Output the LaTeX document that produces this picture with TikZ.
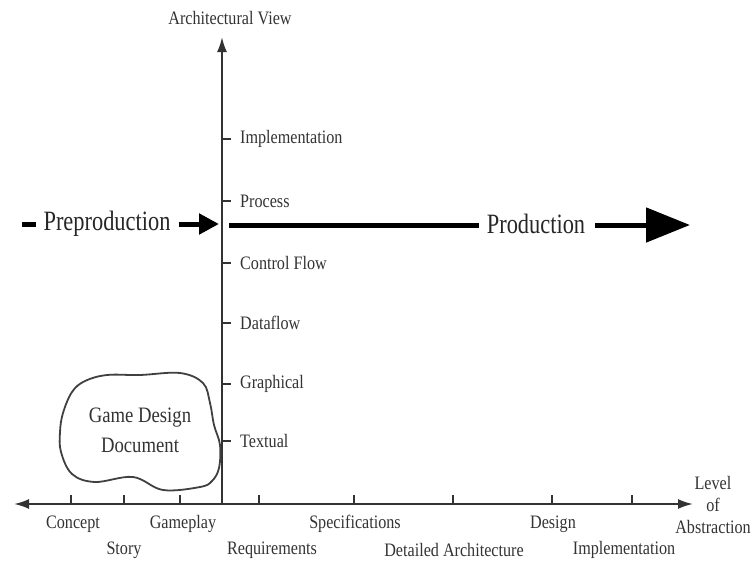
\documentclass[tikz,border=0pt]{standalone}
\usepackage{fontspec}
\setmainfont{Liberation Serif}
\newfontfamily\smallfnt[FakeStretch=0.85]{Liberation Serif}
\newfontfamily\bigfnt[FakeStretch=0.8]{Liberation Serif}
\usetikzlibrary{arrows.meta}
\begin{document}
\begin{tikzpicture}[x=1pt,y=-1pt,
  lbl/.style={inner sep=0pt,font=\smallfnt\fontsize{19}{22}\selectfont,text=black!80},
  big/.style={inner sep=0pt,font=\bigfnt\fontsize{28}{30}\selectfont,text=black!85},
  axis/.style={line width=2pt,draw=black!80},
  tick/.style={line width=1.5pt,draw=black!80},
  thick line/.style={line width=5pt,draw=black}]
\useasboundingbox (0,0) rectangle (753,565);
% axes
\coordinate (O) at (222,504);
\coordinate (L) at (14,504);
\coordinate (R) at (693,504);
\coordinate (T) at (222,37);
\draw[axis,-{Latex[length=15pt,width=10pt]}] (O) -- (L);
\draw[axis,-{Latex[length=15pt,width=10pt]}] (O) -- (R);
\draw[axis,-{Latex[length=15pt,width=10pt]}] (O) -- (T);
\node[lbl] (av) at (230,18) {Architectural View};
% horizontal ticks
\foreach \x in {71,124,180,259,354,453,552,632}
  \draw[tick] (\x,504) -- (\x,495);
\node[lbl] (concept) at (73,524) {Concept};
\node[lbl] (story) at (124,550) {Story};
\node[lbl] (gameplay) at (183,524) {Gameplay};
\node[lbl] (req) at (272,550) {Requirements};
\node[lbl] (spec) at (355,524) {Specifications};
\node[lbl] (detarch) at (454,550) {Detailed Architecture};
\node[lbl] (design) at (553,524) {Design};
\node[lbl] (impl) at (624,550) {Implementation};
\node[lbl,align=center] (lvl) at (713,505) {Level\\of\\Abstraction};
% vertical ticks
\foreach \y/\t in {139/Implementation,201/Process,263/Control Flow,323/Dataflow,384/Graphical,441/Textual}
  {\draw[tick] (222,\y) -- (231,\y);
   \node[lbl,anchor=west] at (240,\y) {\t};}
% preproduction / production
\node[big] (pre) at (107,224) {Preproduction};
\coordinate (dashstart) at (22,224);
\draw[thick line] (dashstart) -- ([xshift=-7pt]pre.west|-dashstart);
\coordinate (preend) at (219,224);
\draw[thick line,-{Triangle[length=20pt,width=20pt]}] ([xshift=8pt]pre.east|-preend) -- (preend);
\node[big] (prod) at (536,224) {Production};
\coordinate (prodstart) at (229,225);
\coordinate (prodend) at (690,225);
\draw[thick line] (prodstart) -- ([xshift=-8pt]prod.west|-prodstart);
\draw[thick line,-{Triangle[length=44pt,width=34pt]}] ([xshift=10pt]prod.east|-prodstart) -- (prodend);
% cloud
\draw[line width=1.8pt,draw=black!75] plot[smooth cycle,tension=0.6] coordinates {
 (63,413) (72,392) (85,381) (107,375) (140,375) (180,373) (203,383) (210,403)
 (214,425) (220,445) (219,468) (212,481) (200,487) (163,490) (133,477) (95,482)
 (72,474) (61,452) (60,432)};
\node[lbl,align=center,font=\smallfnt\fontsize{22}{30}\selectfont] (gdd) at (140,430) {Game Design\\Document};
\end{tikzpicture}
\end{document}
